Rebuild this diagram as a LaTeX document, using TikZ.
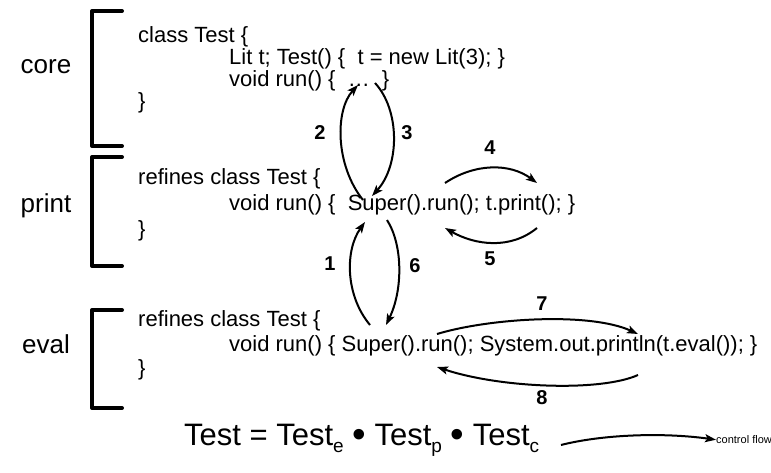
\documentclass[tikz,border=0pt]{standalone}
\usepackage{graphicx}
\usepackage{fontspec}
\setmainfont{Liberation Sans}
\usetikzlibrary{arrows.meta}
\begin{document}
\begin{tikzpicture}[x=1pt,y=-1pt,
  code/.style={anchor=mid west, inner sep=0pt, font=\fontsize{22}{26}\selectfont},
  layer/.style={anchor=mid, inner sep=0pt, font=\fontsize{26}{30}\selectfont},
  bracketline/.style={line width=4pt, line cap=round, line join=round},
  flow/.style={line width=2pt, -{Stealth[length=11pt,width=8pt,inset=2.5pt]}},
  steplabel/.style={anchor=mid, inner sep=0pt, font=\fontsize{20}{22}\selectfont\bfseries},
]
\useasboundingbox (0,0) rectangle (771,473);

% layer names
\node[layer] (core)  at (46,71)  {core};
\node[layer] (print) at (46,210) {print};
\node[layer] (eval)  at (46,351) {eval};

% brackets
\draw[bracketline] (122,11)  -- (92,11)  -- (92,146) -- (122,146);
\draw[bracketline] (122,157) -- (92,157) -- (92,266) -- (122,266);
\draw[bracketline] (122,310) -- (92,310) -- (92,408) -- (122,408);

% core class
\node[code] (c1) at (138,40)  {class Test \{};
\node[code] (c2) at (229,62)  {Lit t; Test() \{\ \ t = new Lit(3); \}};
\node[code] (c3) at (229,84)  {void run() \{\ \ …\ \ \}};
\node[code] (c4) at (138,106) {\}};

% print refinement
\node[code] (p1) at (138,182) {refines class Test \{};
\node[code] (p2) at (229,208) {void run() \{\ \ Super().run(); t.print(); \}};
\node[code] (p3) at (138,234) {\}};

% eval refinement
\node[code] (e1) at (138,324) {refines class Test \{};
\node[code] (e2) at (229,349) {void run() \{ Super().run(); System.out.println(t.eval()); \}};
\node[code] (e3) at (138,373) {\}};

% end points of the control-flow arrows
\coordinate (coreDots)   at (358,85);
\coordinate (coreDotsR)  at (375,83);
\coordinate (pSuperTop)  at (363,200);
\coordinate (pSuperTopR) at (372,196);
\coordinate (pSuperBot)  at (365,222);
\coordinate (pSuperBotR) at (387,220);
\coordinate (eSuperTop)  at (370,325);
\coordinate (eSuperTopR) at (386,325);
\coordinate (pRunUp)     at (445,183);
\coordinate (pPrintUp)   at (537,183);
\coordinate (pRunDn)     at (445,228);
\coordinate (pPrintDn)   at (537,228);
\coordinate (eRunUp)     at (437,334);
\coordinate (ePrintUp)   at (638,334);
\coordinate (eRunDn)     at (437,367);
\coordinate (ePrintDn)   at (638,375);

% control flow
\draw[flow] (eSuperTop)  .. controls (345,295) and (345,250) .. (pSuperBot);
\draw[flow] (pSuperTop)  .. controls (335,165) and (335,110) .. (coreDots);
\draw[flow] (coreDotsR)  .. controls (400,110) and (400,165) .. (pSuperTopR);
\draw[flow] (pRunUp)     .. controls (475,163) and (510,163) .. (pPrintUp);
\draw[flow] (pPrintDn)   .. controls (510,250) and (475,245) .. (pRunDn);
\draw[flow] (pSuperBotR) .. controls (403,245) and (403,290) .. (eSuperTopR);
\draw[flow] (eRunUp)     .. controls (490,318) and (590,312) .. (ePrintUp);
\draw[flow] (ePrintDn)   .. controls (600,392) and (500,388) .. (eRunDn);

% step numbers
\node[steplabel] (n1) at (330,268) {1};
\node[steplabel] (n2) at (320,137) {2};
\node[steplabel] (n3) at (407,137) {3};
\node[steplabel] (n4) at (490,152) {4};
\node[steplabel] (n5) at (490,263) {5};
\node[steplabel] (n6) at (415,270) {6};
\node[steplabel] (n7) at (542,308) {7};
\node[steplabel] (n8) at (542,402) {8};

% composition and legend
\newcommand\layersub[1]{\raisebox{-7pt}{\fontsize{19}{19}\selectfont #1}}
\newcommand\compose{\raisebox{-1.5pt}{\scalebox{1.25}{\textbullet}}}
\node[anchor=mid west, inner sep=0pt, font=\fontsize{31}{35}\selectfont] (formula) at (184,443)
  {Test = Test\layersub{e} \compose{} Test\layersub{p} \compose{} Test\layersub{c}};
\coordinate (legFrom) at (561,445);
\node[anchor=mid west, inner sep=0pt, font=\fontsize{11}{13}\selectfont] (legend) at (716,441) {control flow};
\draw[flow] (legFrom) .. controls (600,435) and (660,432) .. (legend.west);
\end{tikzpicture}
\end{document}
